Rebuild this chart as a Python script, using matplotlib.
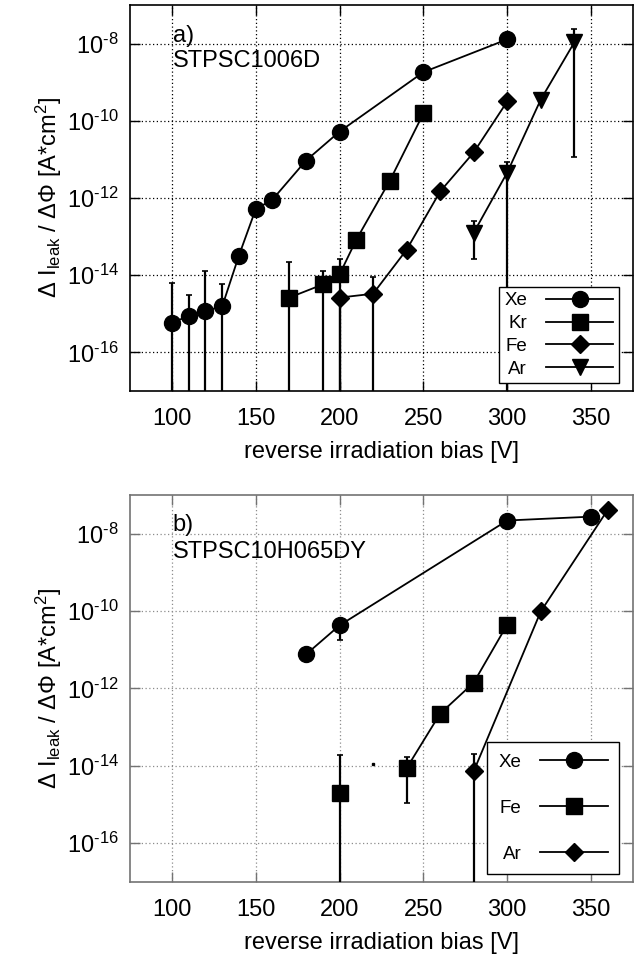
import numpy as np
import matplotlib
matplotlib.use("Agg")
import matplotlib.pyplot as plt

plt.rcParams["font.family"] = ["Liberation Sans", "DejaVu Sans"]
plt.rcParams["mathtext.fontset"] = "custom"
plt.rcParams["mathtext.rm"] = "Liberation Sans"
plt.rcParams["mathtext.it"] = "Liberation Sans"
plt.rcParams["mathtext.default"] = "regular"

nan = np.nan
BOT = -20  # error bar running off the bottom of the plot

# ---- panel a) STPSC1006D, log10 values ----
a_xe_v = [100, 110, 120, 130, 140, 150, 160, 180, 200, 250, 300]
a_xe_y = [-15.23, -15.06, -14.92, -14.81, -13.49, -12.29, -12.04, -11.03, -10.28, -8.74, -7.89]
a_xe_hi = [-14.19, -14.50, -13.90, -14.24, nan, nan, nan, nan, nan, nan, nan]
a_xe_lo = [BOT, BOT, BOT, BOT, nan, nan, nan, nan, nan, nan, nan]

a_kr_v = [170, 190, 200, 210, 230, 250]
a_kr_y = [-14.58, -14.24, -13.98, -13.08, -11.55, -9.81]
a_kr_hi = [-13.67, -13.90, -13.57, nan, nan, nan]
a_kr_lo = [BOT, BOT, BOT, nan, nan, nan]

a_fe_v = [200, 220, 240, 260, 280, 300]
a_fe_y = [-14.58, -14.48, -13.34, -11.83, -10.82, -9.50]
a_fe_hi = [nan, -14.04, nan, nan, nan, nan]
a_fe_lo = [BOT, BOT, nan, nan, nan, nan]

a_ar_v = [280, 300, 320, 340]
a_ar_y = [-12.90, -11.34, -9.45, -7.97]
a_ar_hi = [-12.59, -11.08, nan, -7.61]
a_ar_lo = [-13.57, BOT, nan, -10.95]

# ---- panel b) STPSC10H065DY ----
b_xe_v = [180, 200, 300, 350]
b_xe_y = [-11.12, -10.37, -7.66, -7.56]
b_xe_hi = [nan, -10.30, nan, nan]
b_xe_lo = [nan, -10.76, nan, nan]

b_fe_v = [200, 220, 240, 260, 280, 300]
b_fe_y = [-14.71, nan, -14.06, -12.65, -11.85, -10.35]
b_fe_hi = [-13.73, nan, -13.78, nan, nan, nan]
b_fe_lo = [BOT, nan, -14.97, nan, nan, nan]
b_fe_stray_v = [220]
b_fe_stray_y = [-13.96]

b_ar_v = [280, 320, 360]
b_ar_y = [-14.14, -10.01, -7.38]
b_ar_hi = [-13.70, nan, nan]
b_ar_lo = [BOT, nan, nan]

xticks = [100, 150, 200, 250, 300, 350]
yticks_exp = [-16, -14, -12, -10, -8]


def series(ax, v, y, hi, lo, marker, ms, label):
    y = np.array(y)
    hi = np.array(hi)
    lo = np.array(lo)
    yv = 10.0 ** y
    up = np.nan_to_num(np.where(np.isnan(hi), 0, 10.0 ** hi - yv))
    dn = np.nan_to_num(np.where(np.isnan(lo), 0, yv - 10.0 ** lo))
    ax.errorbar(v, yv, yerr=[dn, up], fmt="none", ecolor="black",
                elinewidth=1.6, capsize=2.5, capthick=1.2, zorder=3)
    ax.plot(v, yv, color="black", lw=1.3, marker=marker, ms=ms,
            label=label, zorder=4)


def style(ax, grid_color, spine_color, labelspacing, borderpad):
    ax.set_yscale("log")
    ax.set_xlim(75, 375)
    ax.set_ylim(1e-17, 1e-7)
    ax.set_xticks(xticks)
    ax.set_yticks([10.0 ** e for e in yticks_exp])
    ax.set_yticklabels([r"10$^{\text{%d}}$" % e for e in yticks_exp])
    ax.minorticks_off()
    ax.tick_params(direction="in", length=7, width=1, labelsize=17,
                   top=True, right=True, color=spine_color)
    ax.tick_params(axis="x", pad=12)
    ax.tick_params(axis="y", pad=8)
    ax.grid(True, linestyle=(0, (1, 2)), color=grid_color, lw=0.9)
    for s in ax.spines.values():
        s.set_color(spine_color)
        s.set_linewidth(1.2)
    ax.set_xlabel("reverse irradiation bias [V]", fontsize=17, labelpad=8)
    ax.set_ylabel(r"$\Delta$ I$_{\rm leak}$ / $\Delta\Phi$ [A*cm$^2$]",
                  fontsize=17, labelpad=2)
    leg = ax.legend(loc="lower right", bbox_to_anchor=(0.972, 0.02),
                    markerfirst=False, fontsize=13.5, handlelength=3.6,
                    labelspacing=labelspacing, borderpad=borderpad,
                    handletextpad=1.0, fancybox=False, framealpha=1,
                    edgecolor="black", borderaxespad=0)
    leg.get_frame().set_linewidth(1.0)
    leg.set_zorder(10)


fig = plt.figure(figsize=(6.37, 9.57), dpi=100)
ax1 = fig.add_axes([0.204, 0.5914, 0.7897, 0.4034])
ax2 = fig.add_axes([0.204, 0.0784, 0.7897, 0.4044])

series(ax1, a_xe_v, a_xe_y, a_xe_hi, a_xe_lo, "o", 11.5, "Xe")
series(ax1, a_kr_v, a_kr_y, a_kr_hi, a_kr_lo, "s", 11.5, "Kr")
series(ax1, a_fe_v, a_fe_y, a_fe_hi, a_fe_lo, "D", 9, "Fe")
series(ax1, a_ar_v, a_ar_y, a_ar_hi, a_ar_lo, "v", 11.5, "Ar")
style(ax1, "black", "black", 0.3, 0.3)
ax1.text(0.085, 0.905, "a)", transform=ax1.transAxes, fontsize=17, va="baseline")
ax1.text(0.085, 0.839, "STPSC1006D", transform=ax1.transAxes, fontsize=17, va="baseline")

series(ax2, b_xe_v, b_xe_y, b_xe_hi, b_xe_lo, "o", 11.5, "Xe")
series(ax2, b_fe_v, b_fe_y, b_fe_hi, b_fe_lo, "s", 11.5, "Fe")
series(ax2, b_ar_v, b_ar_y, b_ar_hi, b_ar_lo, "D", 9, "Ar")
ax2.plot(b_fe_stray_v, 10.0 ** np.array(b_fe_stray_y), "s", color="black", ms=1.5)
style(ax2, "0.55", "0.45", 1.55, 0.6)
ax2.text(0.085, 0.906, "b)", transform=ax2.transAxes, fontsize=17, va="baseline")
ax2.text(0.085, 0.837, "STPSC10H065DY", transform=ax2.transAxes, fontsize=17, va="baseline")

fig.savefig("out.png", dpi=100)
